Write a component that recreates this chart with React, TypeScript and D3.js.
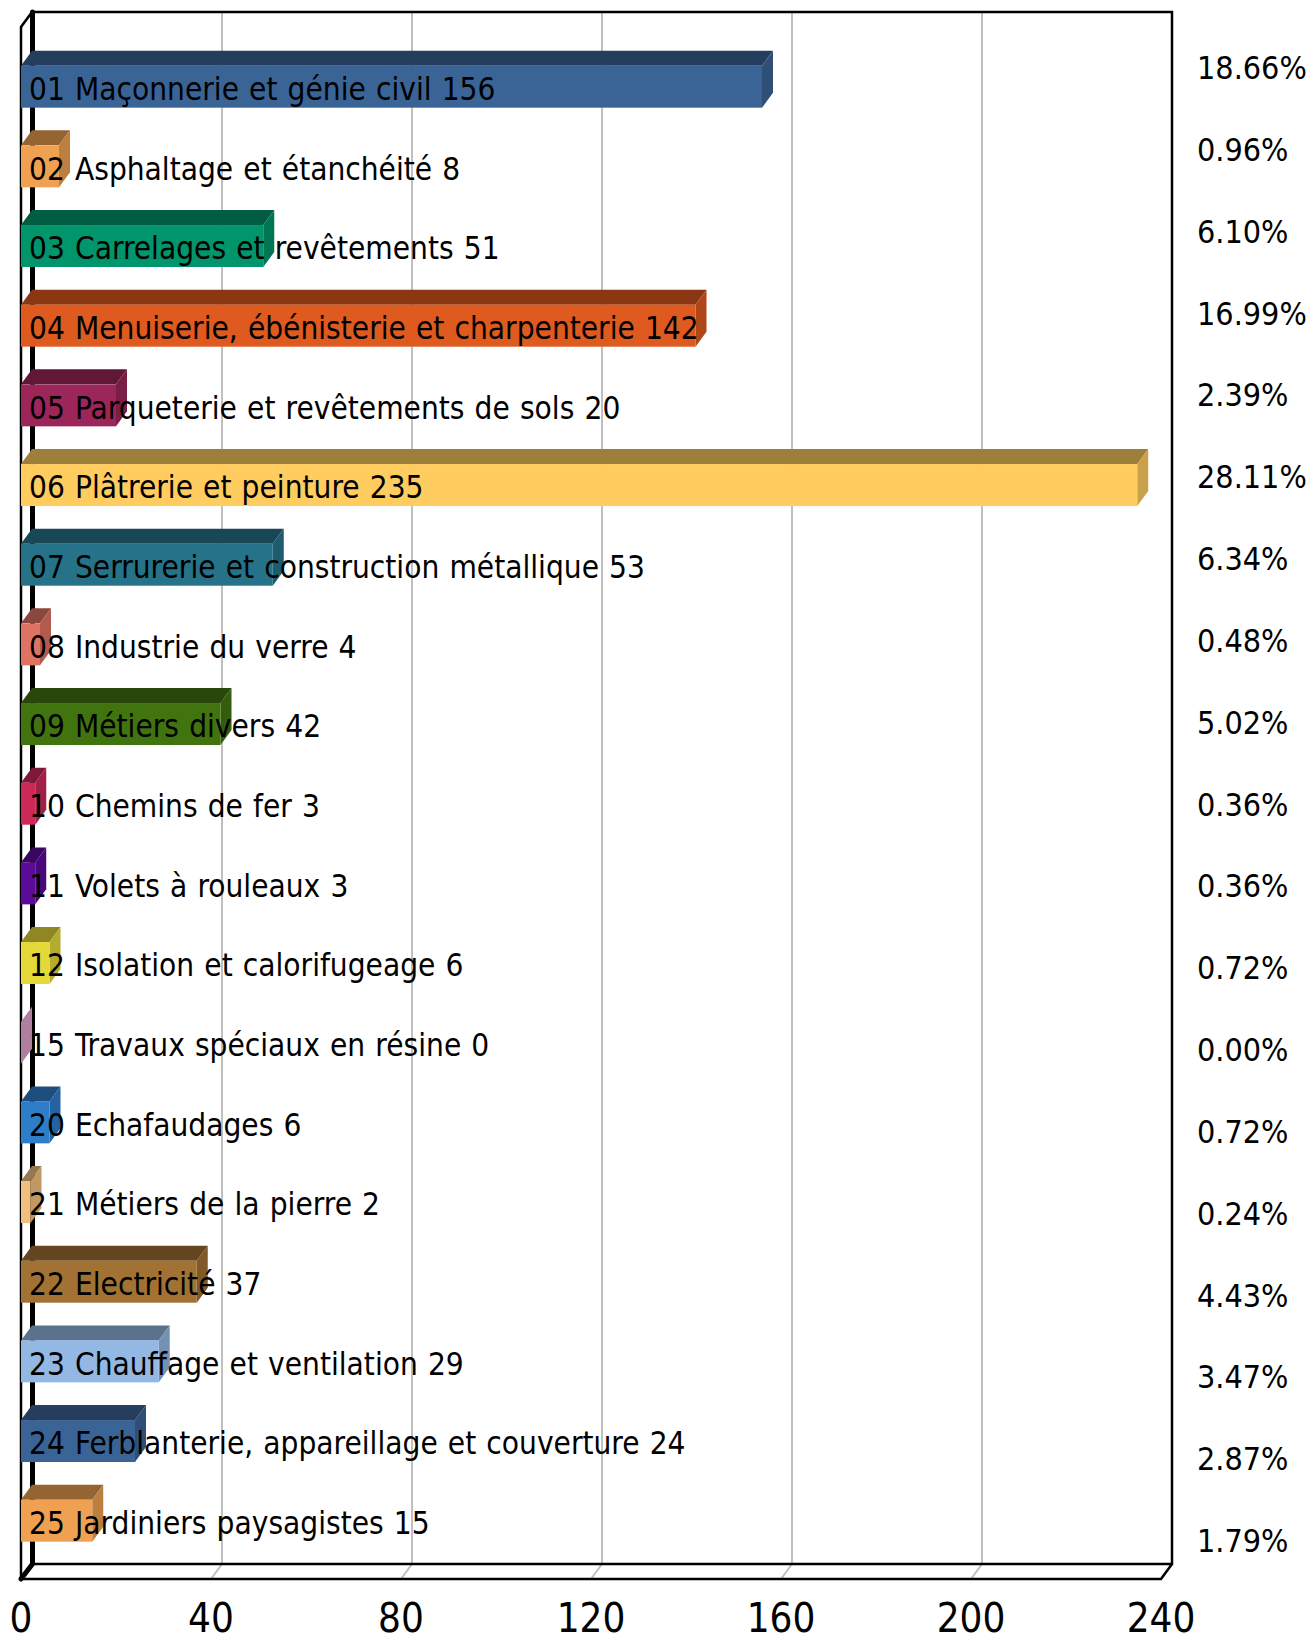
import * as d3 from "d3";

const categories = [
  "01 Maçonnerie et génie civil",
  "02 Asphaltage et étanchéité",
  "03 Carrelages et revêtements",
  "04 Menuiserie, ébénisterie et charpenterie",
  "05 Parqueterie et revêtements de sols",
  "06 Plâtrerie et peinture",
  "07 Serrurerie et construction métallique",
  "08 Industrie du verre",
  "09 Métiers divers",
  "10 Chemins de fer",
  "11 Volets à rouleaux",
  "12 Isolation et calorifugeage",
  "15 Travaux spéciaux en résine",
  "20 Echafaudages",
  "21 Métiers de la pierre",
  "22 Electricité",
  "23 Chauffage et ventilation",
  "24 Ferblanterie, appareillage et couverture",
  "25 Jardiniers paysagistes",
];
const values = [156, 8, 51, 142, 20, 235, 53, 4, 42, 3, 3, 6, 0, 6, 2, 37, 29, 24, 15];
const percents = [
  "18.66%", "0.96%", "6.10%", "16.99%", "2.39%", "28.11%", "6.34%", "0.48%", "5.02%", "0.36%",
  "0.36%", "0.72%", "0.00%", "0.72%", "0.24%", "4.43%", "3.47%", "2.87%", "1.79%",
];
const colors = [
  "#3b6496", "#efa151", "#00956b", "#df5a1f", "#9c2659", "#ffcc5f", "#267389", "#df7363", "#41740f",
  "#cc2858", "#5b0a99", "#e5d93a", "#dfa0c8", "#2e7dc9", "#f2c07e", "#a17233", "#92b8e3", "#3b6496", "#efa151",
];
const xTicks = [0, 40, 80, 120, 160, 200, 240];

const WIDTH = 1308;
const HEIGHT = 1636;
const FONT = "'DejaVu Sans Condensed', 'DejaVu Sans', sans-serif";
// 3D offset of the back wall
const DX = 11;
const DY = 15;
const FRONT_BOTTOM = 1579;
const BACK_TOP = 12;

const shade = (c: string, k: number) => {
  const r = d3.rgb(c);
  return d3.rgb(r.r * k, r.g * k, r.b * k).formatHex();
};

export default function App() {
  const x = d3.scaleLinear().domain([0, 240]).range([21, 1161]);
  const y = d3
    .scaleBand<string>()
    .domain(categories)
    .range([65.7, 1541.7])
    .paddingInner(0.473)
    .paddingOuter(0);
  const pctY = d3.scalePoint<string>().domain(categories).range([79, 1552]);
  const h = y.bandwidth();
  const x0 = x(0);
  const backBottom = FRONT_BOTTOM - DY;

  return (
    <svg
      width={WIDTH}
      height={HEIGHT}
      style={{ position: "absolute", left: 0, top: 0 }}
      fontFamily={FONT}
      fontStretch="condensed"
    >
      {/* gridlines */}
      {xTicks.slice(1, -1).map((t) => (
        <path
          key={t}
          d={`M${x(t) + DX},${BACK_TOP}V${backBottom}L${x(t)},${FRONT_BOTTOM}`}
          fill="none"
          stroke="#c0c0c0"
          strokeWidth={2}
        />
      ))}
      {/* walls and floor */}
      <path
        d={`M${x0},${FRONT_BOTTOM}V${BACK_TOP + DY}L${x0 + DX},${BACK_TOP}H${x(240) + DX}V${backBottom}H${x0 + DX}M${x0},${FRONT_BOTTOM}H${x(240)}L${x(240) + DX},${backBottom}`}
        fill="none"
        stroke="#000"
        strokeWidth={2.5}
      />
      <path
        d={`M${x0 + DX + 0.5},${BACK_TOP}V${backBottom}L${x0},${FRONT_BOTTOM}`}
        fill="none"
        stroke="#000"
        strokeWidth={5}
        strokeLinecap="round"
      />
      {/* bars */}
      {categories.map((c, i) => {
        const bx = x(values[i]);
        const by = y(c) as number;
        return (
          <g key={c}>
            <path
              d={`M${x0},${by}L${x0 + DX},${by - DY}H${bx + DX}L${bx},${by}Z`}
              fill={shade(colors[i], 0.62)}
            />
            <path
              d={`M${bx},${by}L${bx + DX},${by - DY}V${by + h - DY}L${bx},${by + h}Z`}
              fill={shade(colors[i], 0.79)}
            />
            <rect x={x0} y={by} width={bx - x0} height={h} fill={colors[i]} />
          </g>
        );
      })}
      {/* bar labels */}
      {categories.map((c, i) => (
        <text
          key={c}
          x={29}
          y={(y(c) as number) + 34.3}
          fontSize={31.3}
          wordSpacing={1.2}
          fill="#000"
        >
          {`${c} ${values[i]}`}
        </text>
      ))}
      {/* percent column */}
      {categories.map((c, i) => (
        <text key={c} x={1197} y={pctY(c)} fontSize={32} fill="#000">
          {percents[i]}
        </text>
      ))}
      {/* x axis labels */}
      {xTicks.map((t) => (
        <text key={t} x={x(t)} y={1632} fontSize={40} textAnchor="middle" fill="#000">
          {t}
        </text>
      ))}
    </svg>
  );
}
